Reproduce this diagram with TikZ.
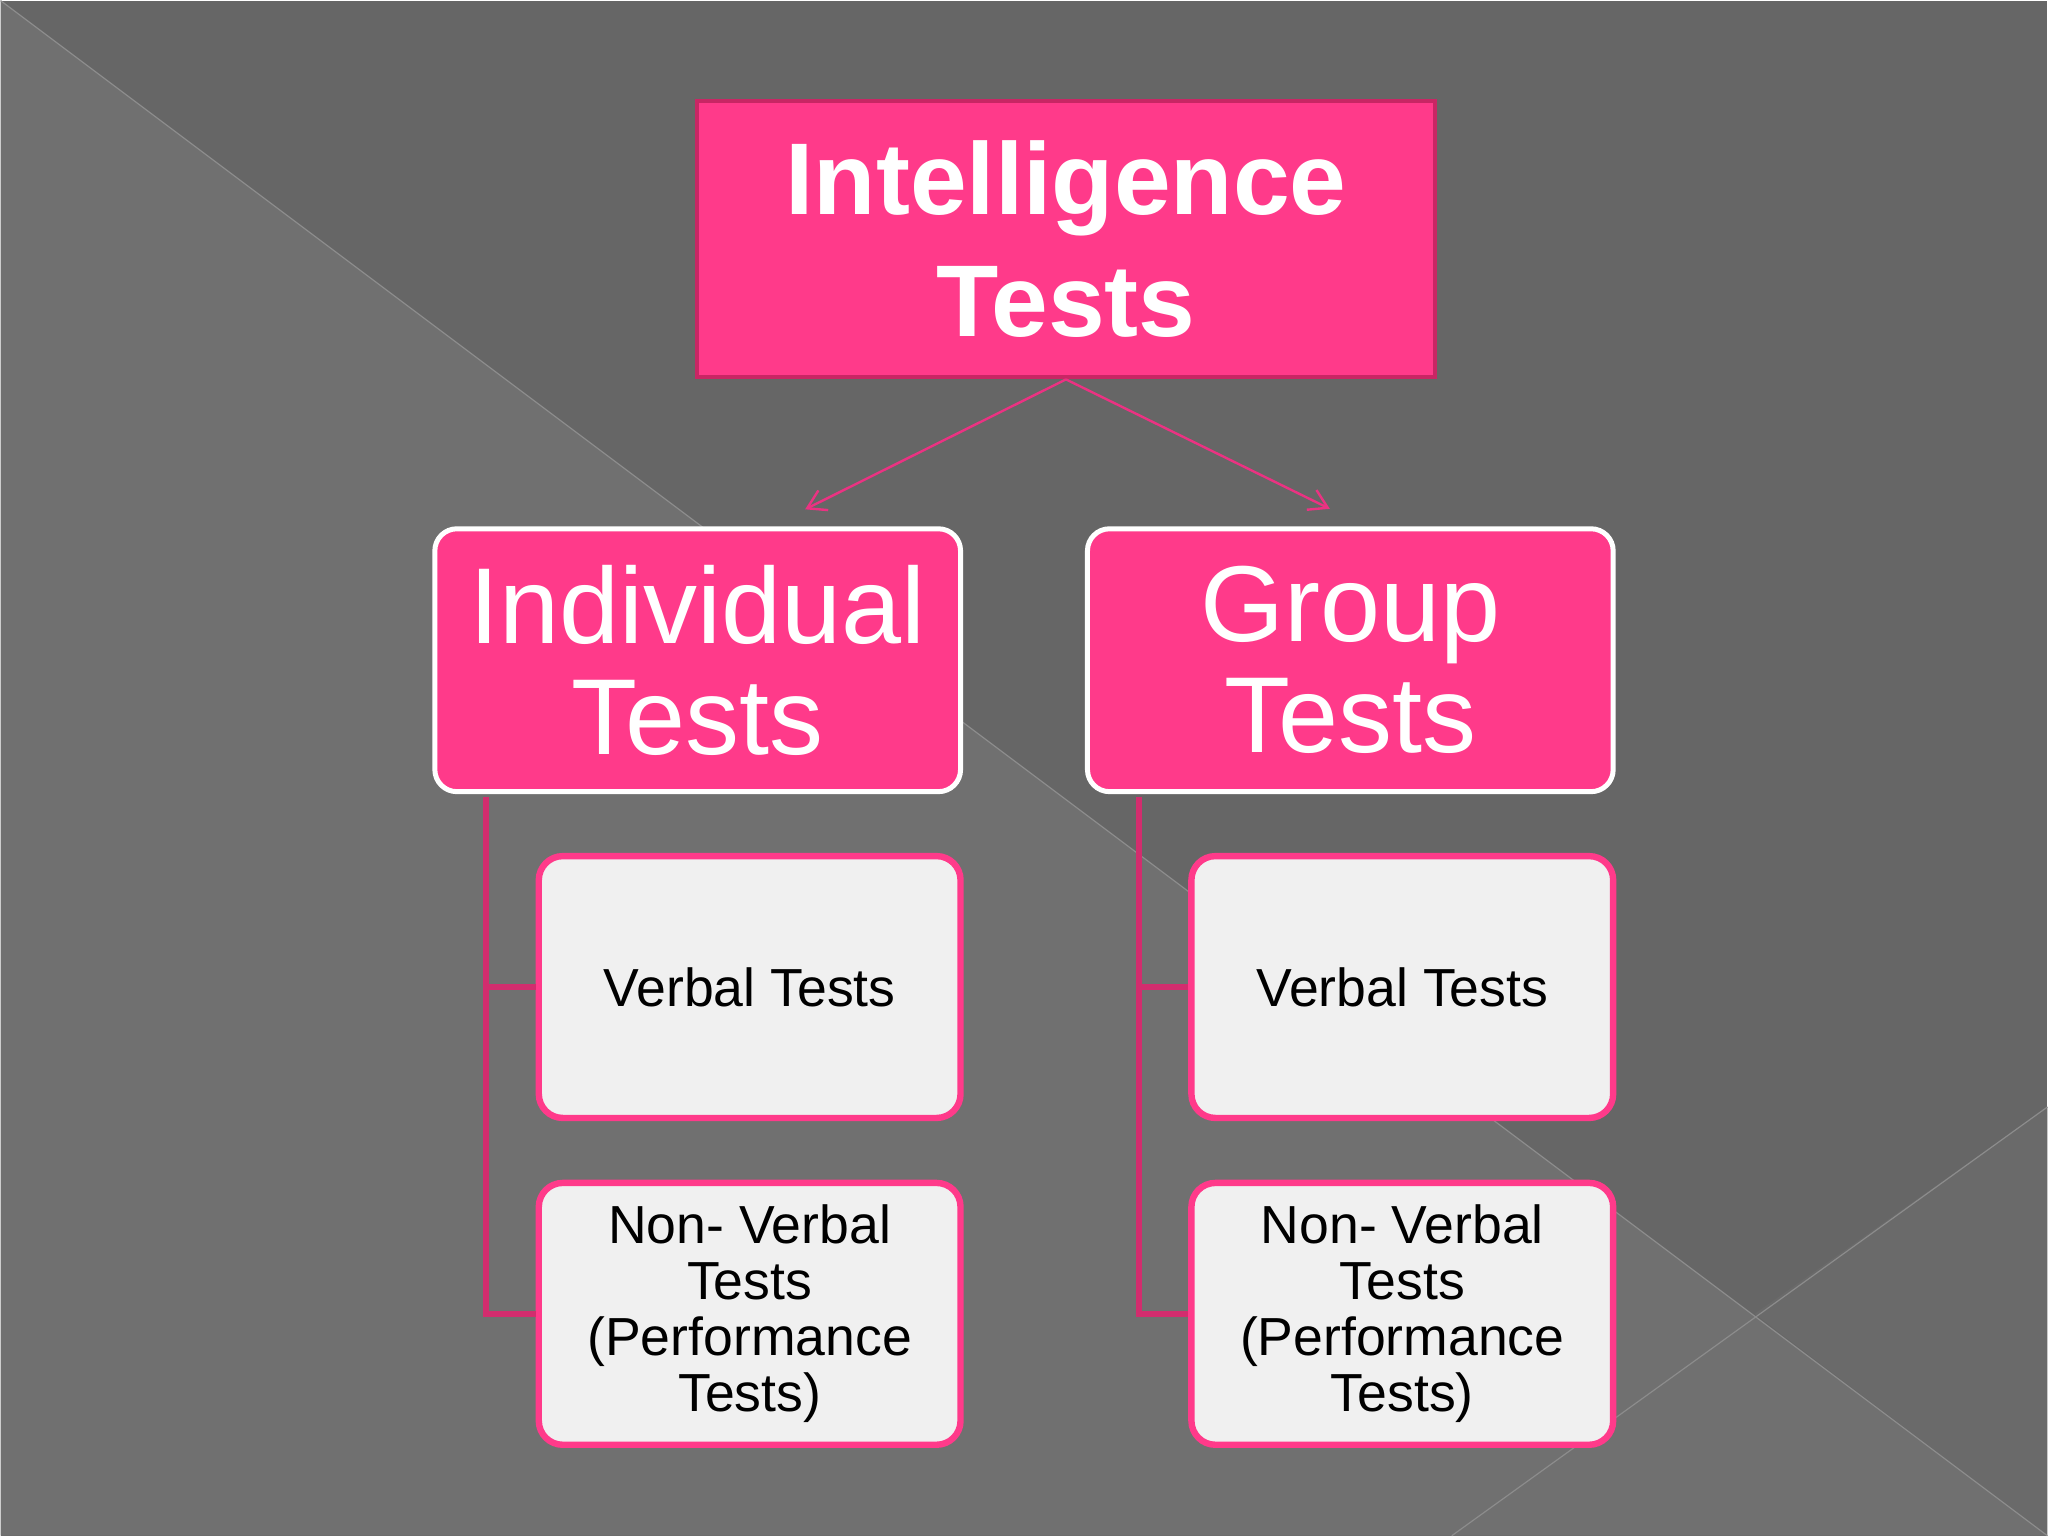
\documentclass[tikz,border=0pt]{standalone}
\usepackage{fontspec}
\setmainfont{Liberation Sans}
\usetikzlibrary{arrows.meta}
\definecolor{bgdark}{RGB}{102,102,102}
\definecolor{bglight}{RGB}{112,112,112}
\definecolor{bgwedge}{RGB}{106,106,106}
\definecolor{bgline}{RGB}{140,140,140}
\definecolor{pinkfill}{RGB}{255,58,138}
\definecolor{pinkedge}{RGB}{200,38,100}
\definecolor{pinkbar}{RGB}{210,45,110}
\definecolor{pinkarrow}{RGB}{235,50,130}
\definecolor{boxgrey}{RGB}{240,240,240}
\tikzstyle{title} = [rectangle, draw=pinkedge, fill=pinkfill, line width=2pt, text=white, text centered, inner sep=0pt, minimum width=369pt, minimum height=138.5pt, font=\fontsize{51pt}{61pt}\selectfont\bfseries]
\tikzstyle{category} = [rectangle, rounded corners=11pt, draw=white, fill=pinkfill, line width=2.5pt, text=white, text centered, inner sep=0pt, minimum width=263pt, minimum height=131.5pt, font=\fontsize{54pt}{55.5pt}\selectfont]
\tikzstyle{subtype} = [rectangle, rounded corners=12pt, draw=pinkfill, fill=boxgrey, line width=3.2pt, text=black, text centered, inner sep=0pt, minimum width=211pt, minimum height=131pt, font=\fontsize{26.8pt}{28pt}\selectfont]
\tikzstyle{connector} = [line width=1.2pt, draw=pinkarrow, -{Straight Barb[length=9pt, width=11pt]}]
\tikzstyle{branch} = [line width=3pt, draw=pinkbar, shorten <=1.2pt]
\tikzstyle{backline} = [line width=0.6pt, draw=bgline]

\begin{document}
\begin{tikzpicture}[x=0.5pt, y=0.5pt, node distance=163.5pt, every text node part/.style={align=center}]
        \fill [bgdark] (0,0) rectangle (2048,-1536);
        \fill [bglight] (0,0) -- (2048,-1536) -- (0,-1536) -- cycle;
        \fill [bgwedge] (1755,-1314) -- (2048,-1107) -- (2048,-1536) -- cycle;
        \draw [backline] (0,0) -- (2048,-1536);
        \draw [backline] (2048,-1107) -- (1452,-1536);
        \node (intelligence) [title] at (1066,-238.5) {Intelligence\\Tests};
        \node (individual) [category, below of = intelligence, xshift = -184.25pt, yshift = -47.25pt] {Individual\\Tests};
        \node (group) [category, right of = individual, xshift = 163pt] {Group\\Tests};
        \node (ind-verbal) [subtype, below of = individual, xshift = 26pt] {Verbal Tests};
        \node (ind-nonverbal) [subtype, below of = ind-verbal] {Non- Verbal\\Tests\\(Performance\\Tests)};
        \node (grp-verbal) [subtype, below of = group, xshift = 26pt] {Verbal Tests};
        \node (grp-nonverbal) [subtype, below of = grp-verbal] {Non- Verbal\\Tests\\(Performance\\Tests)};
        \coordinate (individual-in) at ([xshift = 53.75pt, yshift = 8.5pt]individual.north);
        \coordinate (group-in) at ([xshift = -10.25pt, yshift = 8.75pt]group.north);
        \draw [connector] (intelligence.south) -- (individual-in);
        \draw [connector] (intelligence.south) -- (group-in);
        \draw [branch] ([xshift = 27pt]individual.south west) |- (ind-verbal.west);
        \draw [branch] ([xshift = 27pt]individual.south west) |- (ind-nonverbal.west);
        \draw [branch] ([xshift = 27pt]group.south west) |- (grp-verbal.west);
        \draw [branch] ([xshift = 27pt]group.south west) |- (grp-nonverbal.west);
    \end{tikzpicture}
\end{document}
